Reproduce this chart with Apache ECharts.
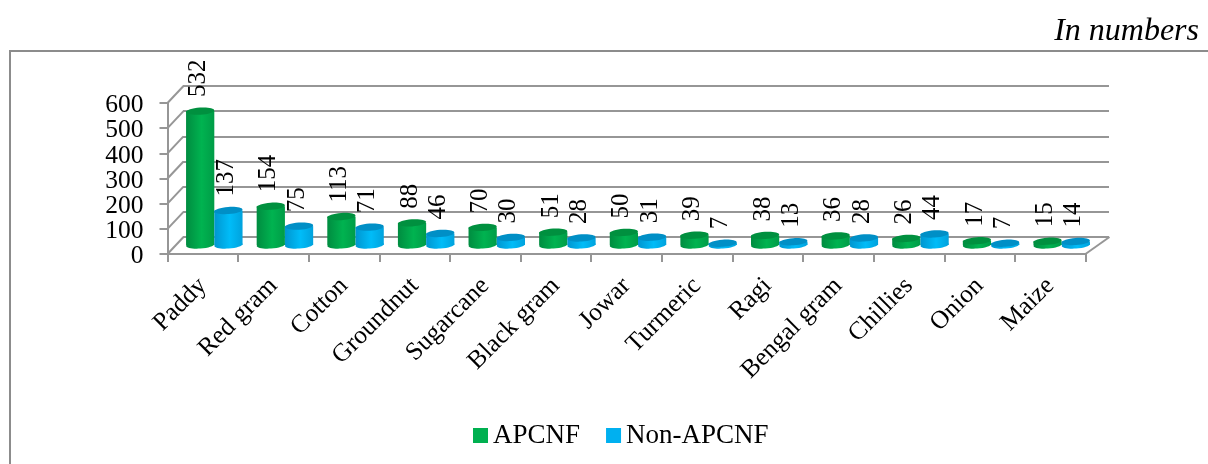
<!DOCTYPE html>
<html><head><meta charset="utf-8">
<style>html,body{margin:0;padding:0;background:#fff}#c{width:1208px;height:464px}</style>
<script src="https://cdn.jsdelivr.net/npm/echarts@6/dist/echarts.min.js"></script></head>
<body><div id="c"></div>
<script>
const categories = ['Paddy','Red gram','Cotton','Groundnut','Sugarcane','Black gram','Jowar','Turmeric','Ragi','Bengal gram','Chillies','Onion','Maize'];
const apcnf = [532,154,113,88,70,51,50,39,38,36,26,17,15];
const nonApcnf = [137,75,71,46,30,28,31,7,13,28,44,7,14];
const yTicks = [0,100,200,300,400,500,600];
const FONT = '"Liberation Serif","Times New Roman",serif';
const AXIS = '#969696';

const chart = echarts.init(document.getElementById('c'), null, {renderer:'canvas'});

function cylinder(side, body, top) {
  return function (params, api) {
    const v = api.value(1);
    const p = api.coord([api.value(0), v]);
    const base = api.coord([api.value(0), 0]);
    const band = api.size([1, 0])[0];
    const w = band * 0.4;
    const x0 = side < 0 ? p[0] - w : p[0];
    const cx = x0 + w / 2;
    const ry = 3.6, tilt = 0.07;
    const grad = new echarts.graphic.LinearGradient(0, 0, 1, 0, body);
    return {
      type: 'group',
      children: [
        {type:'ellipse', x:cx, y:base[1], rotation:tilt, shape:{cx:0, cy:0, rx:w/2, ry:ry}, style:{fill:grad}},
        {type:'rect', shape:{x:x0, y:p[1], width:w, height:Math.max(base[1]-p[1],0)}, style:{fill:grad}},
        {type:'ellipse', x:cx, y:p[1], rotation:tilt, shape:{cx:0, cy:0, rx:w/2, ry:ry}, style:{fill:top}},
        {type:'text', x:cx-2, y:p[1]-14, rotation:Math.PI/2, z2:20,
          style:{text:String(v), fill:'#000', fontFamily:FONT, fontSize:25, align:'left', verticalAlign:'middle'}}
      ]
    };
  };
}

function frameLines(params, api) {
  const v = api.value(0);
  const band = api.size([1, 0])[0];
  const p = api.coord([0, v]);
  const lx = p[0] - band / 2;
  const children = [
    {type:'line', shape:{x1:lx, y1:p[1], x2:lx+16, y2:p[1]-17}, style:{stroke:AXIS, lineWidth:2}},
    {type:'text', x:lx-24, y:p[1]+2.5,
      style:{text:String(v), fill:'#000', fontFamily:FONT, fontSize:25.5, align:'right', verticalAlign:'middle'}}
  ];
  if (v === 0) {
    const q = api.coord([categories.length - 1, 0]);
    const rx = q[0] + band / 2;
    children.push({type:'line', shape:{x1:rx, y1:q[1], x2:rx+24, y2:q[1]-17}, style:{stroke:AXIS, lineWidth:2}});
  }
  return {type:'group', children};
}

chart.setOption({
  animation:false,
  backgroundColor:'#fff',
  textStyle:{fontFamily:FONT},
  grid:[
    {left:167.5, top:103, width:918, height:151},
    {left:183, top:86, width:926, height:151},
    {left:179, top:94, width:918, height:151}
  ],
  xAxis:[
    {gridIndex:0, type:'category', data:categories, boundaryGap:true,
      axisLine:{lineStyle:{color:AXIS,width:2}},
      axisTick:{show:true,length:8,lineStyle:{color:AXIS,width:2}},
      axisLabel:{interval:0, rotate:45, fontFamily:FONT, fontSize:25.5, color:'#000', margin:28}},
    {gridIndex:1, type:'category', data:categories, show:false},
    {gridIndex:2, type:'category', data:categories, show:false}
  ],
  yAxis:[
    {gridIndex:0, type:'value', min:0, max:600, interval:100,
      axisLine:{show:true,lineStyle:{color:AXIS,width:2}},
      axisTick:{show:true,length:8,lineStyle:{color:AXIS,width:2}},
      axisLabel:{show:false},
      splitLine:{show:false}},
    {gridIndex:1, type:'value', min:0, max:600, interval:100,
      axisLine:{show:false}, axisTick:{show:false}, axisLabel:{show:false},
      splitLine:{show:true,lineStyle:{color:AXIS,width:2}}},
    {gridIndex:2, type:'value', min:0, max:600, interval:100, show:false, splitLine:{show:false}}
  ],
  legend:{
    data:['APCNF','Non-APCNF'], left:468, top:417, itemWidth:15, itemHeight:15, itemGap:26,
    icon:'rect', textStyle:{fontFamily:FONT, fontSize:27, color:'#000'}
  },
  series:[
    {type:'custom', xAxisIndex:0, yAxisIndex:0, silent:true, z:1, encode:{y:0},
      data:yTicks.map(v=>[v]), renderItem:frameLines},
    {name:'APCNF', type:'custom', xAxisIndex:2, yAxisIndex:2, z:3,
      itemStyle:{color:'#00B050'},
      data:apcnf.map((v,i)=>[i,v]), encode:{x:0,y:1},
      renderItem:cylinder(-1,[{offset:0,color:'#008c40'},{offset:.55,color:'#00b350'},{offset:1,color:'#009c47'}],'#00903f')},
    {name:'Non-APCNF', type:'custom', xAxisIndex:2, yAxisIndex:2, z:4,
      itemStyle:{color:'#00B0F0'},
      data:nonApcnf.map((v,i)=>[i,v]), encode:{x:0,y:1},
      renderItem:cylinder(1,[{offset:0,color:'#0096d0'},{offset:.55,color:'#00bcf8'},{offset:1,color:'#00a2dd'}],'#008fc6')}
  ],
  graphic:[
    {type:'rect', z:-10, shape:{x:10,y:51,width:1220,height:430}, style:{fill:'none',stroke:'#8c8c8c',lineWidth:2}},
    {type:'text', right:9, top:16, style:{text:'In numbers', fontFamily:FONT, fontStyle:'italic', fontSize:32, fill:'#000'}}
  ]
});
</script></body></html>
